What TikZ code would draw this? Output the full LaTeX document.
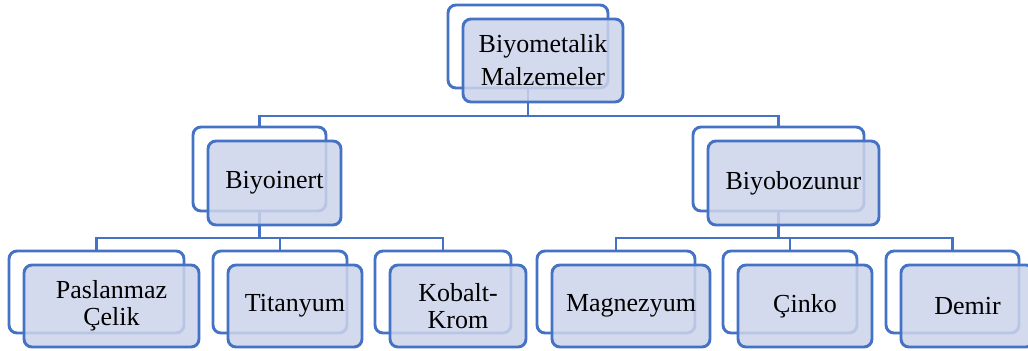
\documentclass[tikz,border=0pt]{standalone}
\usepackage{fontspec}
\setmainfont{Liberation Serif}
\definecolor{edgeblue}{RGB}{68,114,196}
\definecolor{panel}{RGB}{205,212,234}
\tikzset{
  boxbase/.style={draw=edgeblue, line width=1.45pt, rounded corners=4pt, inner sep=0pt},
  backbox/.style={boxbase, fill=white},
  frontbox/.style={boxbase, fill=panel, fill opacity=0.85, text opacity=1, align=center,
    font=\fontsize{13}{13.5}\selectfont},
  conn/.style={draw=edgeblue, line width=1.45pt},
}
\begin{document}
\begin{tikzpicture}[x=0.5pt, y=-0.5pt]
  \useasboundingbox (0,0) rectangle (1028,350);

  % outlined boxes behind each entry
  \node[backbox, minimum width=80pt,   minimum height=41.5pt] (rootb) at (528,46.5) {};
  \node[backbox, minimum width=66.5pt, minimum height=42pt]   (inertb) at (259.5,169) {};
  \node[backbox, minimum width=85.5pt, minimum height=42pt]   (bozb) at (778.5,169) {};
  \node[backbox, minimum width=87.5pt, minimum height=41pt]   (paslb) at (96.5,292) {};
  \node[backbox, minimum width=67pt,   minimum height=41pt]   (titb) at (280,292) {};
  \node[backbox, minimum width=68pt,   minimum height=41pt]   (kobb) at (443,292) {};
  \node[backbox, minimum width=79pt,   minimum height=41pt]   (magb) at (616,292) {};
  \node[backbox, minimum width=67pt,   minimum height=41pt]   (cinb) at (790,292) {};
  \node[backbox, minimum width=66.5pt, minimum height=41pt]   (demb) at (952.5,292) {};

  % tree connectors
  \coordinate (j1) at (528,116);
  \coordinate (j2) at (259.5,238);
  \coordinate (j3) at (778.5,238);
  \draw[conn] (rootb.south) -- (j1);
  \draw[conn] (inertb.north) |- (j1) -| (bozb.north);
  \draw[conn] (inertb.south) -- (j2);
  \draw[conn] (paslb.north) |- (j2) -| (kobb.north);
  \draw[conn] (titb.north) -- (titb.north |- j2);
  \draw[conn] (bozb.south) -- (j3);
  \draw[conn] (magb.north) |- (j3) -| (demb.north);
  \draw[conn] (cinb.north) -- (cinb.north |- j3);

  % labelled boxes in front
  \node[frontbox, minimum width=80pt, minimum height=41.5pt,
        font=\fontsize{13}{16.5}\selectfont] (root) at (543,60.5) {Biyometalik\\Malzemeler};
  \node[frontbox, minimum width=66.5pt, minimum height=42pt] (inert) at (274.5,183) {Biyoinert};
  \node[frontbox, minimum width=85.5pt, minimum height=42pt] (boz) at (793.5,183) {Biyobozunur};
  \node[frontbox, minimum width=87.5pt, minimum height=41pt] (pasl) at (111.5,306) {Paslanmaz\\Çelik};
  \node[frontbox, minimum width=67pt,   minimum height=41pt] (tit) at (295,306) {Titanyum};
  \node[frontbox, minimum width=68pt,   minimum height=41pt] (kob) at (458,306) {Kobalt-\\Krom};
  \node[frontbox, minimum width=79pt,   minimum height=41pt] (mag) at (631,306) {Magnezyum};
  \node[frontbox, minimum width=67pt,   minimum height=41pt] (cin) at (805,306) {Çinko};
  \node[frontbox, minimum width=66.5pt, minimum height=41pt] (dem) at (967.5,306) {Demir};
\end{tikzpicture}
\end{document}
